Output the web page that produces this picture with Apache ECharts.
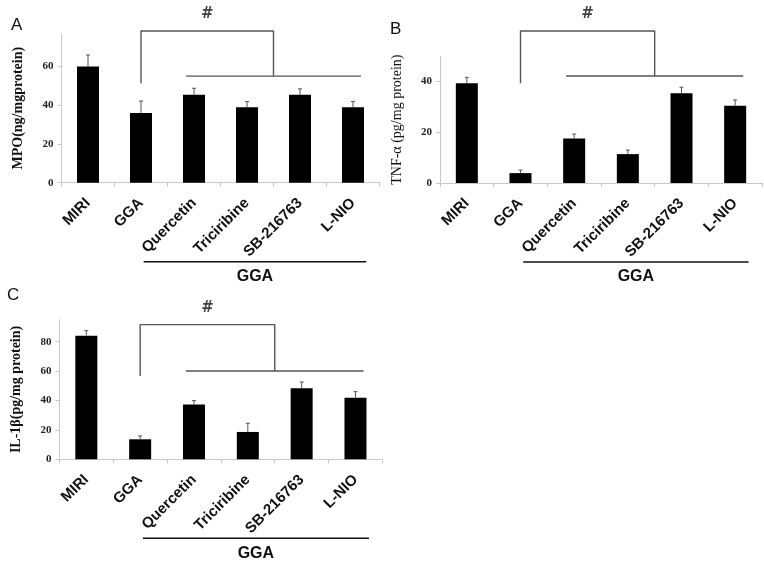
<!DOCTYPE html>
<html><head><meta charset="utf-8">
<script src="https://cdn.jsdelivr.net/npm/echarts@6/dist/echarts.min.js"></script>
<style>html,body{margin:0;padding:0;background:#fff}#c{width:764px;height:563px}</style>
</head><body><div id="c"></div>
<script>
// ---- data ----
const categories = ['MIRI', 'GGA', 'Quercetin', 'Triciribine', 'SB-216763', 'L-NIO'];
const mpoMean = [60, 36, 45.5, 39, 45.5, 39];
const mpoSd   = [6, 6.2, 3.3, 2.9, 3, 3];
const tnfMean = [39.4, 3.9, 17.6, 11.4, 35.4, 30.5];
const tnfSd   = [2.3, 1.2, 1.7, 1.6, 2.4, 2.3];
const il1Mean = [84.1, 13.6, 37.2, 18.6, 48.3, 41.9];
const il1Sd   = [3.4, 2.3, 2.7, 5.9, 4.3, 4.1];
const yMax = [77, 50, 95];
const yInterval = 20;
const yNames = ['MPO(ng/mgprotein)', 'TNF-\u03b1 (pg/mg protein)', 'IL-1\u03b2(pg/mg protein)'];
const panelLetters = ['A', 'B', 'C'];
// significance brackets (x in category units: category i centre = i + 0.5)
const mpoBracket = [[1.5, 51.4], [1.5, 78.4], [4, 78.4], [4, 55.1]];
const mpoSpan    = [[2.35, 55.1], [5.65, 55.1]];
const tnfBracket = [[1.5, 39.4], [1.5, 60], [4, 60], [4, 42.2]];
const tnfSpan    = [[2.35, 42.2], [5.65, 42.2]];
const il1Bracket = [[1.5, 56.7], [1.5, 91.6], [4, 91.6], [4, 60]];
const il1Span    = [[2.35, 60], [5.65, 60]];
const groupLabel = 'GGA';
const groupSpan = [1.55, 5.75];

// ---- layout ----
const grids = [
  {left: 61.5, top: 33.7, width: 318, height: 149},
  {left: 440, top: 56.3, width: 322, height: 126.7},
  {left: 59.4, top: 319.6, width: 323, height: 139.7}
];
const letterPos = [[11, 17], [390, 21], [7, 287]];
const nameBold = ['bold', 'normal', 'bold'];

const panels = [
  {mean: mpoMean, sd: mpoSd, bracket: mpoBracket, span: mpoSpan},
  {mean: tnfMean, sd: tnfSd, bracket: tnfBracket, span: tnfSpan},
  {mean: il1Mean, sd: il1Sd, bracket: il1Bracket, span: il1Span}
];

const serif = '"Liberation Serif", "DejaVu Serif", serif';
const sans = '"Liberation Sans", Arial, sans-serif';
const bracketColor = '#555';

const option = {
  animation: false,
  backgroundColor: '#fff',
  grid: grids.map(g => Object.assign({containLabel: false}, g)),
  xAxis: [],
  yAxis: [],
  series: [],
  graphic: []
};

panels.forEach((p, k) => {
  option.xAxis.push({
    type: 'category', gridIndex: k, data: categories,
    axisLine: {lineStyle: {color: '#c8c8c8', width: 1}},
    axisTick: {show: true, length: 4, lineStyle: {color: '#c8c8c8'}},
    axisLabel: {rotate: 45, margin: 18, color: '#111', fontFamily: sans, fontWeight: 'bold', fontSize: 15, interval: 0},
    splitLine: {show: false}
  });
  option.xAxis.push({type: 'value', gridIndex: k, min: 0, max: 6, show: false});
  option.yAxis.push({
    type: 'value', gridIndex: k, min: 0, max: yMax[k], interval: yInterval,
    name: yNames[k], nameLocation: 'middle', nameGap: 36,
    nameTextStyle: {fontFamily: serif, fontWeight: nameBold[k], fontSize: 14, color: '#111'},
    axisLine: {show: true, lineStyle: {color: '#c8c8c8', width: 1}},
    axisTick: {show: true, length: 4, lineStyle: {color: '#c8c8c8'}},
    axisLabel: {showMaxLabel: false, margin: 8, color: '#222', fontFamily: serif, fontWeight: 'bold', fontSize: 11},
    splitLine: {show: false}
  });
  option.series.push({
    type: 'bar', xAxisIndex: 2 * k, yAxisIndex: k, data: p.mean,
    barWidth: 22, itemStyle: {color: '#000'}, silent: true
  });
  option.series.push({
    type: 'custom', xAxisIndex: 2 * k, yAxisIndex: k,
    data: p.mean.map((m, i) => [i, m, p.sd[i]]),
    encode: {x: 0, y: [1]},
    renderItem: (params, api) => {
      const i = api.value(0), m = api.value(1), s = api.value(2);
      const a = api.coord([i, m]);
      const b = api.coord([i, m + s]);
      return {type: 'group', children: [
        {type: 'line', shape: {x1: a[0], y1: a[1], x2: b[0], y2: b[1]}, style: {stroke: '#555', lineWidth: 1}},
        {type: 'line', shape: {x1: b[0] - 2, y1: b[1], x2: b[0] + 2, y2: b[1]}, style: {stroke: '#555', lineWidth: 1}}
      ]};
    },
    silent: true, z: 3
  });
  option.series.push({
    type: 'line', xAxisIndex: 2 * k + 1, yAxisIndex: k, data: p.bracket,
    showSymbol: false, clip: false, silent: true,
    lineStyle: {color: bracketColor, width: 1.4}
  });
  option.series.push({
    type: 'line', xAxisIndex: 2 * k + 1, yAxisIndex: k, data: p.span,
    showSymbol: false, clip: false, silent: true,
    lineStyle: {color: bracketColor, width: 1.4}
  });
  const top = p.bracket[1][1];
  option.series.push({
    type: 'scatter', xAxisIndex: 2 * k + 1, yAxisIndex: k,
    data: [[(p.bracket[1][0] + p.bracket[2][0]) / 2, top]],
    symbolSize: 0, clip: false, silent: true,
    label: {show: true, position: 'top', distance: 9, formatter: '#', color: '#111',
      fontFamily: '"DejaVu Sans", sans-serif', fontWeight: 'bold', fontSize: 15}
  });
  option.graphic.push({
    type: 'text', left: letterPos[k][0], top: letterPos[k][1],
    style: {text: panelLetters[k], font: '17px ' + sans, fill: '#111'}
  });
});

const chart = echarts.init(document.getElementById('c'), null, {renderer: 'canvas'});
chart.setOption(option);

// group underline + label below the rotated tick labels
const extra = [];
panels.forEach((p, k) => {
  const x1 = chart.convertToPixel({xAxisIndex: 2 * k + 1}, groupSpan[0]);
  const x2 = chart.convertToPixel({xAxisIndex: 2 * k + 1}, groupSpan[1]);
  const y0 = chart.convertToPixel({yAxisIndex: k}, 0) + 79;
  extra.push({type: 'line', shape: {x1: x1, y1: y0, x2: x2, y2: y0}, style: {stroke: '#111', lineWidth: 1.5}, silent: true});
  extra.push({type: 'text', x: (x1 + x2) / 2, y: y0 + 7,
    style: {text: groupLabel, font: 'bold 16px ' + sans, fill: '#111', textAlign: 'center', textVerticalAlign: 'top'}});
});
chart.setOption({graphic: option.graphic.concat(extra)});
</script></body></html>
